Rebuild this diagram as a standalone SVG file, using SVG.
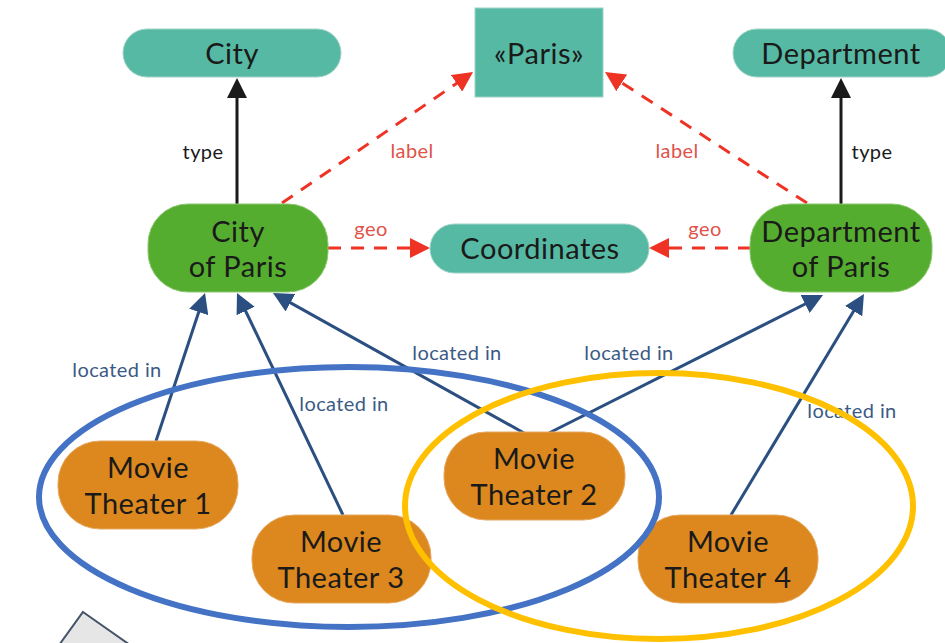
<svg xmlns="http://www.w3.org/2000/svg" width="945" height="643" viewBox="0 0 945 643">
<style>
.node text{font-family:Lato,"Open Sans",sans-serif;font-size:29px;font-weight:400;letter-spacing:0.5px;fill:#1a1a1a;text-anchor:middle}
.teal{fill:#56b9a3;stroke:#9fd3c6;stroke-width:1}
.green{fill:#55ad30;stroke:#8cc86e;stroke-width:1}
.orange{fill:#dc881e;stroke:#e6a860;stroke-width:1}
.lbl{font-family:Lato,"Open Sans",sans-serif;font-size:20px;font-weight:400;letter-spacing:0.4px;text-anchor:middle}
.blue{stroke:#2b4f81;stroke-width:3;fill:none;marker-end:url(#ab)}
.black{stroke:#1a1a1a;stroke-width:3;fill:none;marker-end:url(#ak)}
.red{stroke:#ee3324;stroke-width:3;fill:none;stroke-dasharray:13 10;marker-end:url(#ar)}
.lb{fill:#3b5a85}
.lr{fill:#e0524a}
.lk{fill:#1a1a1a}
</style>
<defs>
<marker id="ab" viewBox="0 0 20 20" markerWidth="20" markerHeight="20" refX="10" refY="10" orient="auto" markerUnits="userSpaceOnUse"><path d="M0,0 L20,10 L0,20 Z" fill="#2b4f81"/></marker>
<marker id="ak" viewBox="0 0 20 20" markerWidth="20" markerHeight="20" refX="10" refY="10" orient="auto" markerUnits="userSpaceOnUse"><path d="M0,0 L20,10 L0,20 Z" fill="#1a1a1a"/></marker>
<marker id="ar" viewBox="0 0 20 20" markerWidth="20" markerHeight="20" refX="10" refY="10" orient="auto" markerUnits="userSpaceOnUse"><path d="M0,0 L20,10 L0,20 Z" fill="#ee3324"/></marker>
</defs>
<rect width="945" height="643" fill="#ffffff"/>
<polygon points="83,612 140,652 54,652" fill="#e7e6e6" stroke="#44546a" stroke-width="2"/>
<g id="connectors">
<line class="black" x1="237" y1="204" x2="237" y2="88"/>
<line class="black" x1="841" y1="204" x2="841" y2="88"/>
<line class="red" x1="282" y1="203" x2="464.8" y2="77.7"/>
<line class="red" x1="807" y1="203" x2="613.4" y2="77.4"/>
<line class="red" x1="328" y1="248" x2="420" y2="248"/>
<line class="red" x1="751" y1="248" x2="659" y2="248"/>
<line class="blue" x1="156" y1="441" x2="201.9" y2="302.5"/>
<line class="blue" x1="343" y1="515" x2="241.3" y2="302"/>
<line class="blue" x1="524" y1="433" x2="281.7" y2="297.9"/>
<line class="blue" x1="549" y1="433" x2="814.1" y2="299.5"/>
<line class="blue" x1="731" y1="515" x2="858.8" y2="302.6"/>
<text class="lbl lk" x="203" y="159">type</text>
<text class="lbl lk" x="872" y="159">type</text>
<text class="lbl lr" x="412" y="158">label</text>
<text class="lbl lr" x="677" y="158">label</text>
<text class="lbl lr" x="371" y="236">geo</text>
<text class="lbl lr" x="705" y="236">geo</text>
<text class="lbl lb" x="117" y="377">located in</text>
<text class="lbl lb" x="344" y="411">located in</text>
<text class="lbl lb" x="457" y="360">located in</text>
<text class="lbl lb" x="629" y="360">located in</text>
<text class="lbl lb" x="852" y="418">located in</text>
</g>
<g id="n-city" class="node"><rect class="teal" x="123" y="29" width="218" height="48" rx="24"/><text x="232" y="64">City</text></g>
<g id="n-paris" class="node"><rect class="teal" x="475" y="8" width="128" height="89"/><text x="539" y="64">«Paris»</text></g>
<g id="n-dept" class="node"><rect class="teal" x="733" y="29" width="218" height="48" rx="24"/><text x="841" y="64">Department</text></g>
<g id="n-cityparis" class="node"><rect class="green" x="148" y="204" width="180" height="88" rx="40"/><text x="238" y="242">City</text><text x="238" y="277">of Paris</text></g>
<g id="n-coord" class="node"><rect class="teal" x="430" y="224" width="219" height="49" rx="24.5"/><text x="540" y="259">Coordinates</text></g>
<g id="n-deptparis" class="node"><rect class="green" x="750" y="204" width="182" height="88" rx="40"/><text x="841" y="242">Department</text><text x="841" y="277">of Paris</text></g>
<g id="n-mt1" class="node"><rect class="orange" x="58" y="441" width="180" height="88" rx="42"/><text x="148" y="478">Movie</text><text x="148" y="514">Theater 1</text></g>
<g id="n-mt2" class="node"><rect class="orange" x="444" y="432" width="181" height="88" rx="42"/><text x="534" y="469">Movie</text><text x="534" y="505">Theater 2</text></g>
<g id="n-mt3" class="node"><rect class="orange" x="252" y="515" width="179" height="88" rx="42"/><text x="341" y="552">Movie</text><text x="341" y="588">Theater 3</text></g>
<g id="n-mt4" class="node"><rect class="orange" x="638" y="515" width="180" height="88" rx="42"/><text x="728" y="552">Movie</text><text x="728" y="588">Theater 4</text></g>
<g id="groups" fill="none" stroke-width="6">
<ellipse cx="349" cy="497" rx="310" ry="130" stroke="#4472c4"/>
<ellipse cx="659" cy="506" rx="254" ry="133" stroke="#ffc000"/>
</g>
</svg>
